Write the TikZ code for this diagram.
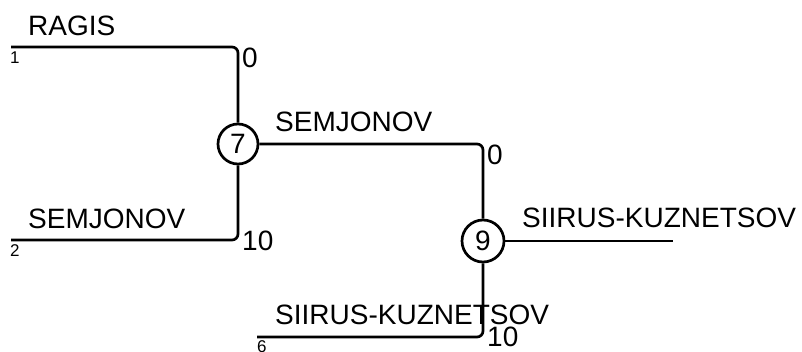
\documentclass[tikz,border=0pt]{standalone}
\usepackage{fontspec}
\setmainfont{Liberation Sans}
\begin{document}
\begin{tikzpicture}[x=1pt,y=-1pt,
  edge/.style={line width=2.7pt, rounded corners=6pt},
  junct/.style={circle, draw, line width=2.7pt, inner sep=0pt, font=\fontsize{28}{30}\selectfont},
  lbl/.style={inner sep=0pt, anchor=base west, font=\fontsize{28}{30}\selectfont},
  leaf/.style={inner sep=0pt, anchor=base west, font=\fontsize{17}{19}\selectfont}]
\useasboundingbox (0,0) rectangle (802,351);
\node[junct, minimum size=40pt] (c7) at (238,144) {7};
\node[junct, minimum size=42pt] (c9) at (483,241) {9};
\coordinate (l1) at (11,47);
\coordinate (l2) at (11,240);
\coordinate (l6) at (257,337);
\coordinate (r9) at (673,241);
\draw[edge] (l1) -| (c7.north);
\draw[edge] (l2) -| (c7.south);
\draw[edge] (c7.east) -| (c9.north);
\draw[edge] (l6) -| (c9.south);
\draw[edge] (c9.east) -- (r9);
\node[lbl] (tragis) at (28,35) {RAGIS};
\node[lbl] (tsem1) at (28,228) {SEMJONOV};
\node[lbl] (tsem2) at (275,131) {SEMJONOV};
\node[lbl] (tsk1) at (522,227) {SIIRUS-KUZNETSOV};
\node[lbl] (tsk2) at (275,324) {SIIRUS-KUZNETSOV};
\node[lbl] (w1) at (242,67) {0};
\node[lbl] (w2) at (242,250) {10};
\node[lbl] (w3) at (487,164) {0};
\node[lbl] (w4) at (487,346) {10};
\node[leaf] (n1) at (10,63) {1};
\node[leaf] (n2) at (10,256) {2};
\node[leaf] (n6) at (257,352) {6};
\end{tikzpicture}
\end{document}
